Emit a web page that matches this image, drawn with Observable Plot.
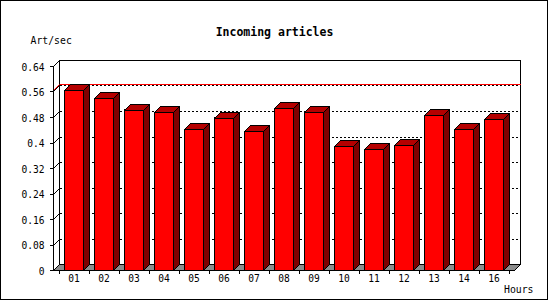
<!DOCTYPE html>
<html>
<head>
<meta charset="utf-8">
<script src="https://cdn.jsdelivr.net/npm/d3@7"></script>
<script src="https://cdn.jsdelivr.net/npm/@observablehq/plot@0.6"></script>
<style>
  html, body { margin: 0; padding: 0; background: white; }
  #wrap { position: relative; width: 550px; height: 300px; overflow: hidden; }
  #border { position: absolute; left: 0; top: 0; width: 546px; height: 298px; border: 1px solid black; pointer-events: none; }
  svg { display: block; }
</style>
</head>
<body>
<div id="wrap"><div id="chart"></div><div id="border"></div></div>
<script>
// ---- data ----
const hours = ["01","02","03","04","05","06","07","08","09","10","11","12","13","14","16"];
const artPerSec = [0.564,0.539,0.502,0.495,0.442,0.477,0.436,0.508,0.495,0.389,0.379,0.392,0.486,0.442,0.473];
const yTicks = [0, 0.08, 0.16, 0.24, 0.32, 0.4, 0.48, 0.56, 0.64];
const titleText = "Incoming articles";
const yLabel = "Art/sec";
const xLabel = "Hours";

const rows = hours.map((h, i) => ({hour: h, value: artPerSec[i]}));
const maxValue = d3.max(artPerSec);

const DEPTH = 6;
const FONT = "DejaVu Sans Mono";
const px = v => Math.round(v) + 0.5;

function bandInfo(x) {
  const bw = x.bandwidth ? x.bandwidth() : 19;
  const step = x.step ? x.step() : (x(hours[1]) - x(hours[0]));
  return {bw, step};
}

// back wall, grid, max line, floor
function backdrop(index, scales, values, dim) {
  const x = scales.x, y = scales.y;
  const L = dim.marginLeft, R = dim.width - dim.marginRight;
  const T = dim.marginTop, B = dim.height - dim.marginBottom;
  const D = DEPTH;
  const g = d3.create("svg:g").attr("shape-rendering", "crispEdges");
  g.append("rect")
    .attr("x", px(L + D)).attr("y", px(T - D))
    .attr("width", Math.round(R - L)).attr("height", Math.round(B - T))
    .attr("fill", "white").attr("stroke", "black");
  for (const t of yTicks) {
    const yy = y(t);
    if (t > 0 && t < yTicks[yTicks.length - 1]) {
      g.append("line")
        .attr("x1", px(L + D)).attr("x2", px(R + D))
        .attr("y1", px(yy - D)).attr("y2", px(yy - D))
        .attr("stroke", "black").attr("stroke-dasharray", "2,2");
    }
    g.append("line")
      .attr("x1", px(L)).attr("y1", px(yy))
      .attr("x2", px(L + D)).attr("y2", px(yy - D))
      .attr("stroke", "black").attr("shape-rendering", "auto");
  }
  const ym = y(maxValue);
  g.append("line")
    .attr("x1", px(L + D)).attr("x2", px(R + D))
    .attr("y1", px(ym - D)).attr("y2", px(ym - D))
    .attr("stroke", "#ff0000");
  g.append("line")
    .attr("x1", px(L)).attr("y1", px(ym))
    .attr("x2", px(L + D)).attr("y2", px(ym - D))
    .attr("stroke", "#ff0000").attr("shape-rendering", "auto");
  g.append("path")
    .attr("d", `M${px(L)},${px(B)}L${px(R)},${px(B)}L${px(R + D)},${px(B - D)}L${px(L + D)},${px(B - D)}Z`)
    .attr("fill", "#8c8c8c").attr("stroke", "black");
  return g.node();
}

// top and side faces of bars + front axes
function faces(index, scales, values, dim) {
  const x = scales.x, y = scales.y;
  const {bw, step} = bandInfo(x);
  const L = dim.marginLeft, R = dim.width - dim.marginRight;
  const T = dim.marginTop, B = dim.height - dim.marginBottom;
  const D = DEPTH;
  const g = d3.create("svg:g").attr("shape-rendering", "crispEdges");
  rows.forEach(r => {
    const x0 = px(x(r.hour)), x1 = px(x(r.hour) + bw);
    const yv = px(y(r.value)), y0 = px(y(0));
    g.append("path")
      .attr("d", `M${x0},${yv}L${x0 + D},${yv - D}L${x1 + D},${yv - D}L${x1},${yv}Z`)
      .attr("fill", "#b40000").attr("stroke", "black").attr("stroke-linejoin", "miter");
    g.append("path")
      .attr("d", `M${x1},${yv}L${x1 + D},${yv - D}L${x1 + D},${y0 - D}L${x1},${y0}Z`)
      .attr("fill", "#800000").attr("stroke", "black").attr("stroke-linejoin", "miter");
  });
  g.append("line").attr("x1", px(L)).attr("x2", px(L)).attr("y1", px(T)).attr("y2", px(B)).attr("stroke", "black");
  for (const t of yTicks) {
    g.append("line").attr("x1", px(L - 4)).attr("x2", px(L)).attr("y1", px(y(t))).attr("y2", px(y(t))).attr("stroke", "black");
  }
  g.append("line").attr("x1", px(L)).attr("x2", px(R)).attr("y1", px(B)).attr("y2", px(B)).attr("stroke", "black");
  const start = x(hours[0]) - (step - bw) / 2;
  for (let k = 0; k <= hours.length; k++) {
    const xx = px(start + k * step);
    g.append("line").attr("x1", xx).attr("x2", xx).attr("y1", px(B)).attr("y2", px(B + 3)).attr("stroke", "black");
  }
  return g.node();
}

const chart = Plot.plot({
  width: 550,
  height: 300,
  marginLeft: 53,
  marginRight: 36,
  marginTop: 66,
  marginBottom: 30,
  style: {fontFamily: FONT, fontSize: "9.6px", background: "white", color: "black", overflow: "visible"},
  x: {type: "band", domain: hours, paddingInner: 0.38, paddingOuter: 0.19, axis: null},
  y: {domain: [0, 0.64], axis: null},
  marks: [
    backdrop,
    Plot.barY(rows, {x: "hour", y: "value", fill: "#ff0000", stroke: "black", strokeWidth: 1, shapeRendering: "crispEdges"}),
    faces,
    Plot.text(hours, {x: d => d, frameAnchor: "bottom", dy: 11, fill: "black", fontFamily: FONT, fontSize: 9.6}),
    Plot.text(yTicks, {y: d => d, text: d => String(d), frameAnchor: "left", textAnchor: "end", dx: -9, dy: 1, fill: "black", fontFamily: FONT, fontSize: 9.6}),
    Plot.text([titleText], {frameAnchor: "top-left", dx: 221, dy: -39, textAnchor: "middle", fontWeight: "bold", fontSize: 11.5, fontFamily: FONT, fill: "black"}),
    Plot.text([yLabel], {frameAnchor: "top-left", dx: -23, dy: -29, textAnchor: "start", fontSize: 9.8, fontFamily: FONT, fill: "black"}),
    Plot.text([xLabel], {frameAnchor: "bottom-right", dx: 19, dy: 22, textAnchor: "end", fontSize: 9.8, fontFamily: FONT, fill: "black"})
  ]
});
document.getElementById("chart").appendChild(chart);
</script>
</body>
</html>
